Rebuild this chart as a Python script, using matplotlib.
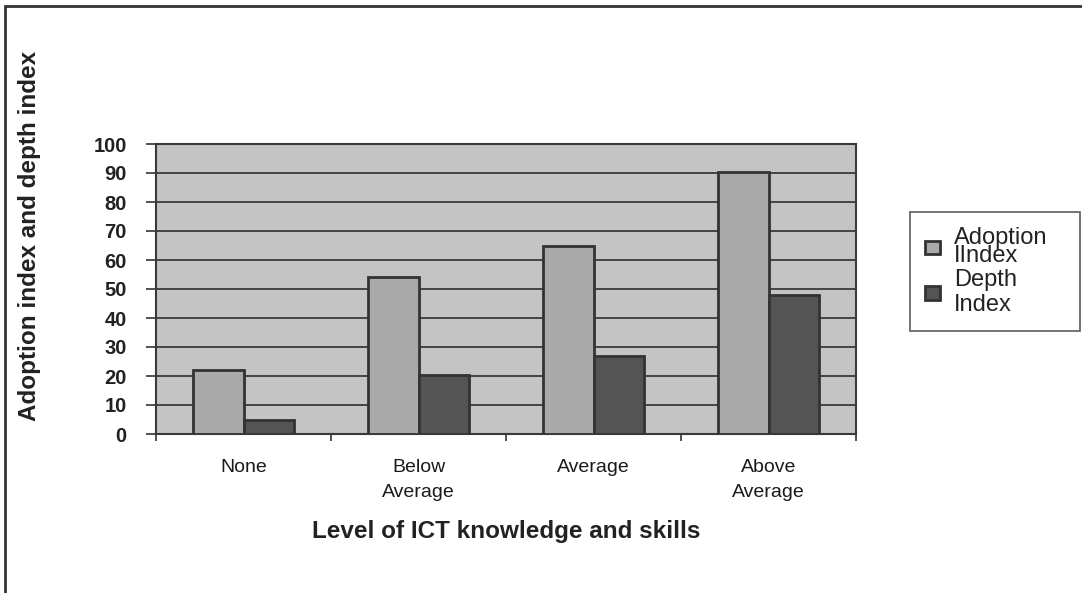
import numpy as np
import matplotlib
matplotlib.use('Agg')
from matplotlib import pyplot as plt
from matplotlib.patches import Rectangle

plt.rcParams['font.family'] = ['Liberation Sans', 'DejaVu Sans']

categories = ['None', 'Below\nAverage', 'Average', 'Above\nAverage']
adoption_index = [22, 54, 65, 90.5]
depth_index = [5, 20.5, 27, 48]
y_ticks = [0, 10, 20, 30, 40, 50, 60, 70, 80, 90, 100]

fig = plt.figure(figsize=(10.82, 5.93), dpi=100)
ax = fig.add_axes([156 / 1082, 1 - 434 / 593, 700 / 1082, 290 / 593])
ax.set_facecolor('#c4c4c4')

ind = np.arange(len(categories))
width = 0.29
ax.bar(ind - width / 2, adoption_index, width, color='#a9a9a9',
       edgecolor='#333333', linewidth=2, label='Adoption\nIIndex', zorder=3)
ax.bar(ind + width / 2, depth_index, width, color='#545454',
       edgecolor='#333333', linewidth=2, label='Depth\nIndex', zorder=3)

ax.set_xlim(-0.5, len(categories) - 0.5)
ax.set_ylim(0, 100)
ax.set_yticks(y_ticks)
ax.set_yticklabels([str(t) for t in y_ticks], fontsize=14.5, fontweight='bold',
                   color='#222222')
ax.yaxis.grid(True, color='#3a3a3a', linewidth=1.3, zorder=1)
ax.set_axisbelow(True)

# category labels in the middle, tick marks on the boundaries
ax.set_xticks(np.arange(-0.5, len(categories), 1.0))
ax.set_xticklabels([])
ax.set_xticks(ind, minor=True)
ax.set_xticklabels(categories, minor=True, fontsize=14, color='#1a1a1a',
                   linespacing=1.6)
ax.tick_params(axis='x', which='minor', length=0, pad=18)
ax.tick_params(axis='x', which='major', length=5, width=1.2, color='#333333')
ax.tick_params(axis='y', length=7, width=1.2, color='#333333', pad=14)

for s in ax.spines.values():
    s.set_color('#3a3a3a')
    s.set_linewidth(1.5)

ax.set_xlabel('Level of ICT knowledge and skills', fontsize=17.5,
              fontweight='bold', color='#222222', labelpad=14)
fig.text(30 / 1082, 1 - 236 / 593, 'Adoption index and depth index',
         rotation=90, ha='center', va='center', fontsize=17.5,
         fontweight='bold', color='#222222')

leg = fig.legend(loc='upper left',
                 bbox_to_anchor=(910 / 1082, 1 - 330 / 593, 170 / 1082, 118 / 593),
                 mode='expand', fontsize=17, frameon=True, fancybox=False,
                 shadow=False, handlelength=0.6, handleheight=0.5,
                 handletextpad=0.6, labelspacing=0.1, borderpad=0.65,
                 borderaxespad=0)
leg.get_frame().set_edgecolor('#333333')
leg.get_frame().set_linewidth(1.2)
texts = leg.get_texts()
texts[0].set_linespacing(0.75)
texts[1].set_linespacing(1.15)
for t in texts:
    t.set_color('#222222')

# outer frame of the scanned figure (right and bottom edges run off the page)
fig.patches.append(Rectangle((5 / 1082, -0.05), 1.1, 1 - 6 / 593 + 0.05,
                             transform=fig.transFigure, fill=False,
                             edgecolor='#333333', linewidth=2))

fig.savefig('out.png', dpi=100)
